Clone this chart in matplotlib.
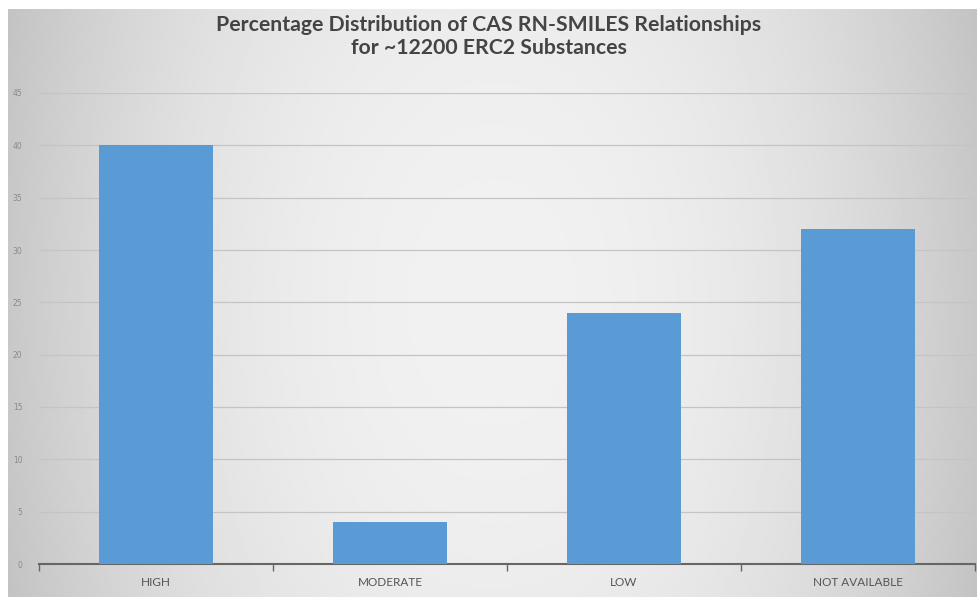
import numpy as np
import matplotlib.pyplot as plt

categories = ["HIGH", "MODERATE", "LOW", "NOT AVAILABLE"]
percentages = [40, 4, 24, 32]
y_ticks = [0, 5, 10, 15, 20, 25, 30, 35, 40, 45]

fig = plt.figure(figsize=(9.77, 5.97), dpi=100, facecolor="white")

# gradient grey background (lighter in the middle), thin white margin top/left
bg = fig.add_axes([8 / 977, 0, 1 - 8 / 977, 1 - 9 / 597], zorder=-10)
xx = np.linspace(-1, 1, 400)
yy = np.linspace(-1, 1, 250)
X, Y = np.meshgrid(xx, yy)
shade = 0.945 - 0.16 * np.abs(X) ** 2.2 - 0.02 * Y ** 2
bg.imshow(shade, cmap="gray", vmin=0, vmax=1, aspect="auto", extent=[0, 1, 0, 1])
bg.set_axis_off()

ax = fig.add_axes([39 / 977, 1 - 564 / 597, 936 / 977, (564 - 93) / 597])
ax.patch.set_alpha(0)

x = np.arange(len(categories))
ax.bar(x, percentages, width=0.49, color="#5b9bd5", zorder=3)

ax.set_xlim(-0.5, len(categories) - 0.5)
ax.set_ylim(0, 45)
ax.set_yticks(y_ticks)
ax.set_yticklabels([str(v) for v in y_ticks], fontsize=5.5, color="#8a8a8a")
ax.grid(axis="y", color="#c4c4c4", linewidth=0.9, zorder=0)

ax.set_xticks(x)
ax.set_xticklabels(categories, fontsize=8.5, color="#555555", family="Lato")
ax.tick_params(axis="x", length=0, pad=9)
ax.tick_params(axis="y", length=0, pad=12)
ax.set_xticks(np.arange(-0.5, len(categories)), minor=True)
ax.tick_params(axis="x", which="minor", length=5, color="#666666", width=1)

for s in ["top", "right", "left"]:
    ax.spines[s].set_visible(False)
ax.spines["bottom"].set_color("#666666")
ax.spines["bottom"].set_linewidth(1.5)

fig.text(0.5, 1 - 25 / 597, "Percentage Distribution of CAS RN-SMILES Relationships",
         ha="center", va="center", fontsize=15.3, color="#444444",
         family="Lato", fontweight="bold")
fig.text(0.5, 1 - 48 / 597, "for ~12200 ERC2 Substances",
         ha="center", va="center", fontsize=15.3, color="#444444",
         family="Lato", fontweight="bold")

fig.savefig("out.png", dpi=100)
